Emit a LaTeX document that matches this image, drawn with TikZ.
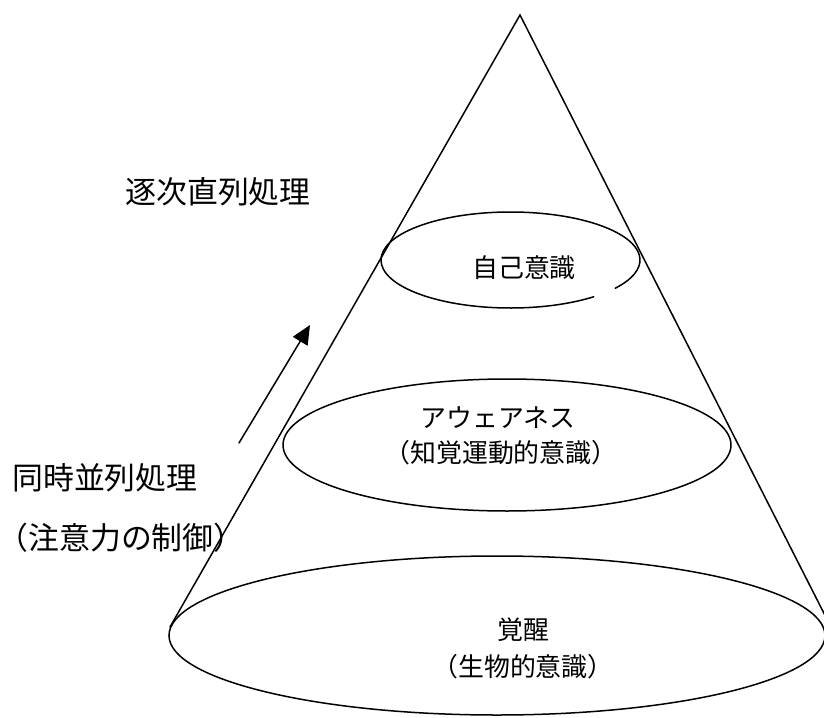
\documentclass[tikz,border=0pt]{standalone}
\usepackage{fontspec}
\newfontfamily\jp[RawFeature=+halt]{Noto Sans CJK JP}
\usetikzlibrary{arrows.meta}
\begin{document}
\begin{tikzpicture}[x=1bp,y=-1bp,line width=1.5bp,line cap=round,
  inlbl/.style={font=\jp\fontsize{26}{30}\selectfont,inner sep=0pt},
  sidelbl/.style={font=\jp\fontsize{31}{36}\selectfont,inner sep=0pt}]
\useasboundingbox (0,0) rectangle (824,718);
% cone
\coordinate (apex) at (520,15);
\coordinate (bl) at (170,627);
\coordinate (br) at (836,637);
\draw (bl) -- (apex) -- (br);
% ellipses
\draw (497,635.5) ellipse [x radius=328, y radius=79.5];
\draw (507,445) ellipse [x radius=224, y radius=66];
\draw ([shift={(50:129.5 and 48)}]510.5,260) arc [start angle=50, end angle=396, x radius=129.5, y radius=48];
% arrow
\coordinate (a1) at (239,443);
\coordinate (a2) at (310,325);
\draw[-{Triangle[length=19bp,width=17bp]}] (a1) -- (a2);
% labels
\node[sidelbl] (serial) at (218,192) {逐次直列処理};
\node[sidelbl] (parallel) at (105,478) {同時並列処理};
\node[sidelbl] (attn) at (121,538) {（注意力の制御）};
\node[inlbl] (self) at (524,268) {自己意識};
\node[inlbl] (aw1) at (498,418) {アウェアネス};
\node[inlbl] (aw2) at (501,453) {（知覚運動的意識）};
\node[inlbl] (ar1) at (523,630) {覚醒};
\node[inlbl] (ar2) at (523,667) {（生物的意識）};
\end{tikzpicture}
\end{document}
